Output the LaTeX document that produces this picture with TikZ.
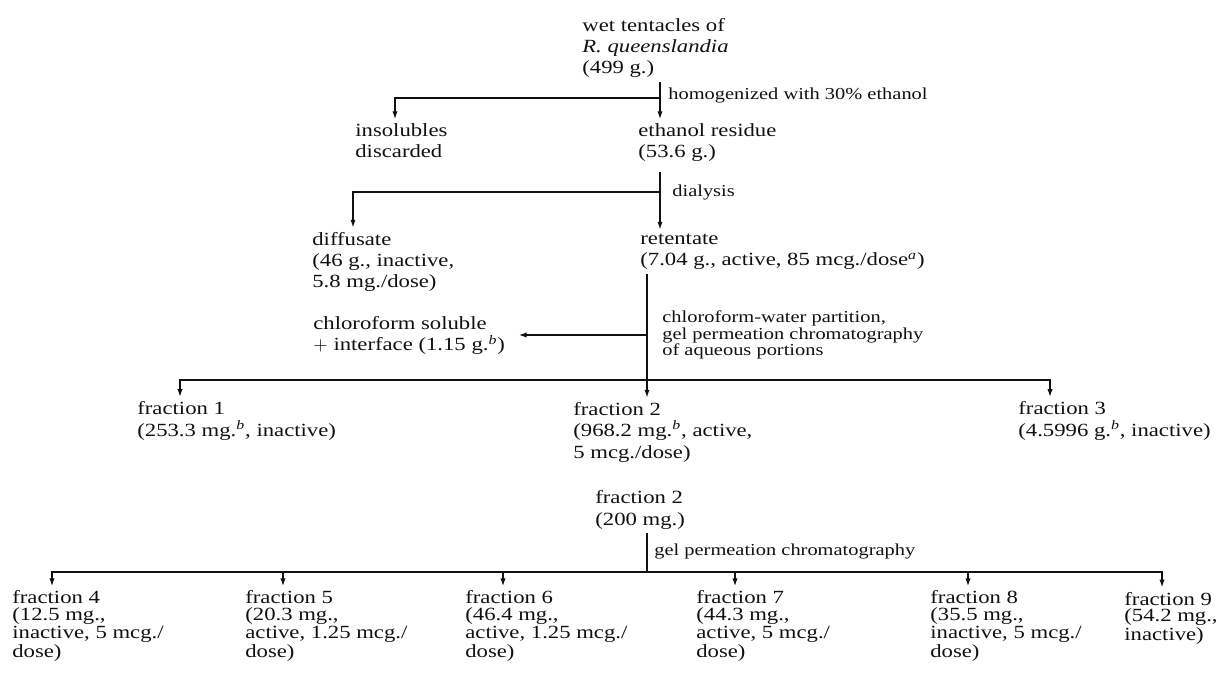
\documentclass[tikz,border=0pt]{standalone}
\usepackage{fontspec}
\setmainfont[FakeStretch=1.22]{Liberation Serif}
\usetikzlibrary{arrows.meta,calc}
\definecolor{ink}{HTML}{111111}
\newcommand\bodysize{\fontsize{10}{11.5}\selectfont}
\newcommand\tightsize{\fontsize{10}{8.7}\selectfont}
\newcommand\notesize{\fontsize{9}{8.9}\selectfont}
\newcommand\fn[1]{\textsuperscript{\itshape #1}}
\tikzset{
  x=0.5376pt, y=-0.5376pt,
  item/.style={anchor=base west, align=left, inner xsep=0pt, inner ysep=2pt, font=\bodysize, text=ink},
  tight/.style={item, font=\tightsize},
  how/.style={anchor=base west, align=left, inner sep=0pt, font=\notesize, text=ink},
  line/.style={draw=ink, line width=0.9pt},
  arrow/.style={line, -{Latex[length=4.4pt,width=2.8pt]}},
}
\begin{document}
\begin{tikzpicture}
\useasboundingbox (0,0) rectangle (1221,677);
% --- crude extract and dialysis (nodes placed by the baseline of their last line)
\node[item] (wet) at (582,74) {wet tentacles of\\\textit{R. queenslandia}\\(499 g.)};
\node[item] (insol) at (355,158) {insolubles\\discarded};
\node[item] (etoh) at (638,158) {ethanol residue\\(53.6 g.)};
\node[item] (diff) at (312,288) {diffusate\\(46 g., inactive,\\5.8 mg./dose)};
\node[item] (ret) at (640,266) {retentate\\(7.04 g., active, 85 mcg./dose\fn{a})};
\node[item] (chcl) at (313,351) {chloroform soluble\\$+$ interface (1.15 g.\fn{b})};
\coordinate (s1) at (660,98);
\coordinate (s2) at (660,192);
\coordinate (s3) at (647,335);
\coordinate (s4) at (647,380);
\draw[arrow] (wet.south -| s1) -- (etoh.north -| s1);
\draw[arrow] (s1) -| ([shift={(40,0)}]insol.north west);
\node[how] (lab1) at (668,100) {homogenized with 30\% ethanol};
\draw[arrow, shorten <=3pt] (etoh.south -| s2) -- (ret.north -| s2);
\draw[arrow] (s2) -| ([shift={(41,0)}]diff.north west);
\node[how] (lab2) at (672,197) {dialysis};
% --- partition and first gel column
\node[how] (lab3) at (662,356) {chloroform-water partition,\\gel permeation chromatography\\of aqueous portions};
\node[item] (f1) at (137,436) {fraction 1\\(253.3 mg.\fn{b}, inactive)};
\node[item] (f2) at (573,458) {fraction 2\\(968.2 mg.\fn{b}, active,\\5 mcg./dose)};
\node[item] (f3) at (1018,436) {fraction 3\\(4.5996 g.\fn{b}, inactive)};
\draw[line] (ret.south -| s4) -- (s4);
\draw[arrow, shorten >=7pt] (s3) -- (chcl.east |- s3);
\draw[arrow] (s4) -- (f2.north -| s4);
\draw[arrow] (s4) -| ([shift={(43,0)}]f1.north west);
\draw[arrow] (s4) -| ([shift={(32,0)}]f3.north west);
% --- second gel column
\node[item] (f2b) at (595,525) {fraction 2\\(200 mg.)};
\node[how] (lab4) at (654,555) {gel permeation chromatography};
\coordinate (s5) at (647,572);
\node[tight] (f4) at (12,657) {fraction 4\\(12.5 mg.,\\inactive, 5 mcg./\\dose)};
\node[tight] (f5) at (245,657) {fraction 5\\(20.3 mg.,\\active, 1.25 mcg./\\dose)};
\node[tight] (f6) at (465,657) {fraction 6\\(46.4 mg.,\\active, 1.25 mcg./\\dose)};
\node[tight] (f7) at (696,657) {fraction 7\\(44.3 mg.,\\active, 5 mcg./\\dose)};
\node[tight] (f8) at (930,657) {fraction 8\\(35.5 mg.,\\inactive, 5 mcg./\\dose)};
\node[tight] (f9) at (1124,640) {fraction 9\\(54.2 mg.,\\inactive)};
\draw[line] (f2b.south -| s5) -- (s5);
\foreach \n/\d in {f4/40, f5/38, f6/38, f7/39, f8/38, f9/38} {\draw[arrow] (s5) -| ([shift={(\d,0)}]\n.north west);}
\end{tikzpicture}
\end{document}
